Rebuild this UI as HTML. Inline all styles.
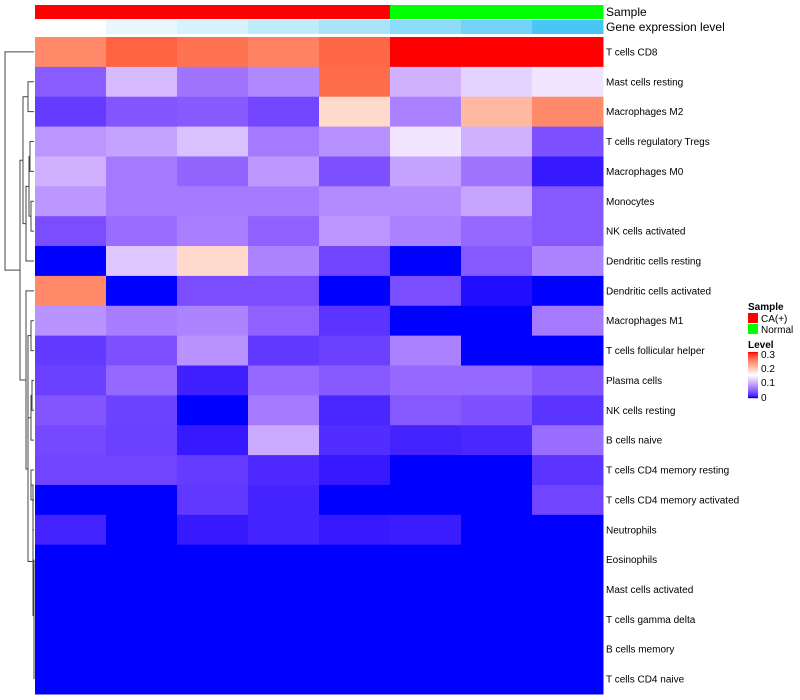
<!DOCTYPE html>
<html><head><meta charset="utf-8"><style>
body{margin:0;background:#fff;}
svg{display:block;font-family:"Liberation Sans",sans-serif;}
</style></head><body>
<svg id="chart" width="800" height="700">
<g id="ann"></g><g id="cells"></g><g id="dendro" stroke="#444" stroke-width="1" fill="none"></g><g id="labels" font-size="10" fill="#000"></g>
<text x="606" y="16" font-size="12">Sample</text>
<text x="606" y="31" font-size="12">Gene expression level</text>
<g>
<text x="748" y="310" font-size="10" font-weight="bold">Sample</text>
<rect x="748" y="313" width="10" height="10" fill="#ff0000"/>
<text x="761" y="322" font-size="10">CA(+)</text>
<rect x="748" y="324" width="10" height="10" fill="#00ff00"/>
<text x="761" y="333" font-size="10">Normal</text>
<text x="748" y="348" font-size="10" font-weight="bold">Level</text>
<g id="cbar"></g>
<text x="761" y="358" font-size="10">0.3</text>
<text x="761" y="372" font-size="10">0.2</text>
<text x="761" y="386" font-size="10">0.1</text>
<text x="761" y="401" font-size="10">0</text>
</g>
</svg>
<script>
const rowNames=["T cells CD8","Mast cells resting","Macrophages M2","T cells regulatory  Tregs","Macrophages M0","Monocytes","NK cells activated","Dendritic cells resting","Dendritic cells activated","Macrophages M1","T cells follicular helper","Plasma cells","NK cells resting","B cells naive","T cells CD4 memory resting","T cells CD4 memory activated","Neutrophils","Eosinophils","Mast cells activated","T cells gamma delta","B cells memory","T cells CD4 naive"];
const sampleGroups=["CA","CA","CA","CA","CA","Normal","Normal","Normal"];
const geneLevel=[0,0.12,0.22,0.35,0.47,0.62,0.78,1];
const values=[
[0.24,0.265,0.255,0.245,0.262,0.3,0.3,0.3],
[0.044,0.106,0.06,0.073,0.26,0.10,0.121,0.133],
[0.024,0.04,0.043,0.031,0.18,0.068,0.205,0.24],
[0.082,0.09,0.11,0.064,0.078,0.133,0.10,0.037],
[0.10,0.064,0.05,0.084,0.037,0.09,0.06,0.007],
[0.083,0.064,0.064,0.064,0.075,0.075,0.092,0.042],
[0.035,0.055,0.067,0.048,0.082,0.068,0.052,0.042],
[0,0.115,0.18,0.07,0.03,0,0.042,0.07],
[0.24,0,0.035,0.035,0,0.035,0.003,0],
[0.08,0.066,0.07,0.048,0.02,0,0,0.064],
[0.023,0.036,0.08,0.022,0.027,0.068,0,0],
[0.027,0.052,0.01,0.052,0.043,0.052,0.052,0.04],
[0.04,0.028,0,0.064,0.013,0.042,0.037,0.02],
[0.032,0.027,0.007,0.095,0.016,0.011,0.013,0.055],
[0.03,0.03,0.024,0.014,0.007,0,0,0.02],
[0,0,0.022,0.011,0,0,0,0.03],
[0.011,0,0.007,0.011,0.007,0.008,0,0],
[0,0,0,0,0,0,0,0],
[0,0,0,0,0,0,0,0],
[0,0,0,0,0,0,0,0],
[0,0,0,0,0,0,0,0],
[0,0,0,0,0,0,0,0]];
const X0=35,X1=603,Y0=37,Y1=694;
const nC=8,nR=rowNames.length;
const cw=(X1-X0)/nC,rh=(Y1-Y0)/nR;
const xPos=c=>X0+c*cw, yPos=r=>Y0+r*rh;
function lin(c){c/=255;return c<=0.04045?c/12.92:Math.pow((c+0.055)/1.055,2.4);}
function unlin(c){c=c<=0.0031308?12.92*c:1.055*Math.pow(c,1/2.4)-0.055;return Math.round(Math.max(0,Math.min(1,c))*255);}
const Wp=[0.95047,1,1.08883];
function f(t){return t>0.008856?Math.cbrt(t):7.787*t+16/116;}
function fi(t){return t>0.206893?t*t*t:(t-16/116)/7.787;}
function toLab(rgb){const [r,g,b]=rgb.map(lin);
 const X=(0.4124*r+0.3576*g+0.1805*b)/Wp[0],Y=(0.2126*r+0.7152*g+0.0722*b)/Wp[1],Z=(0.0193*r+0.1192*g+0.9505*b)/Wp[2];
 return [116*f(Y)-16,500*(f(X)-f(Y)),200*(f(Y)-f(Z))];}
function fromLab(L){const fy=(L[0]+16)/116,fx=fy+L[1]/500,fz=fy-L[2]/200;
 const X=fi(fx)*Wp[0],Y=fi(fy)*Wp[1],Z=fi(fz)*Wp[2];
 const r=3.2406*X-1.5372*Y-0.4986*Z,g=-0.9689*X+1.8758*Y+0.0415*Z,b=0.0557*X-0.2040*Y+1.0570*Z;
 return `rgb(${unlin(r)},${unlin(g)},${unlin(b)})`;}
const LB=toLab([0,0,255]),LW=toLab([255,255,255]),LR=toLab([255,0,0]);
function mix(a,b,k){return a.map((x,i)=>x+(b[i]-x)*k);}
function col(v){const t=Math.max(0,Math.min(0.3,v))/0.3;
 return t<0.5?fromLab(mix(LB,LW,t/0.5)):fromLab(mix(LW,LR,(t-0.5)/0.5));}
function blue(l){const a=[255,255,255],b=[74,198,245];return `rgb(${a.map((x,i)=>Math.round(x+(b[i]-x)*l)).join(',')})`;}
const NS="http://www.w3.org/2000/svg";
const ann=document.getElementById('ann'),cells=document.getElementById('cells'),labels=document.getElementById('labels');
const cbar=document.getElementById('cbar');
for(let i=0;i<46;i++){const r=document.createElementNS(NS,'rect');
 r.setAttribute('x',748);r.setAttribute('y',352+i);r.setAttribute('width',10);r.setAttribute('height',1.2);
 r.setAttribute('fill',col(0.3*(1-i/45)));
 
 
 cbar.appendChild(r);}
for(let c=0;c<nC;c++){
 let r=document.createElementNS(NS,'rect');
 r.setAttribute('x',xPos(c));r.setAttribute('y',5);r.setAttribute('width',cw+0.5);r.setAttribute('height',14);
 r.setAttribute('fill',sampleGroups[c]==="CA"?"#ff0000":"#00ff00");
 
 
 ann.appendChild(r);
 let g=document.createElementNS(NS,'rect');
 g.setAttribute('x',xPos(c));g.setAttribute('y',20);g.setAttribute('width',cw+0.5);g.setAttribute('height',14);
 g.setAttribute('fill',blue(geneLevel[c]));
 
 
 ann.appendChild(g);
}
for(let r=0;r<nR;r++){
 for(let c=0;c<nC;c++){
  let e=document.createElementNS(NS,'rect');
  e.setAttribute('x',xPos(c));e.setAttribute('y',yPos(r));e.setAttribute('width',cw+0.5);e.setAttribute('height',rh+0.5);
  e.setAttribute('fill',col(values[r][c]));
  
  
  cells.appendChild(e);
 }
 let t=document.createElementNS(NS,'text');
 t.setAttribute('x',606);t.setAttribute('y',yPos(r)+rh/2+3.5);t.textContent=rowNames[r];
 
 
 labels.appendChild(t);
}
const merges=[[1,2,28],[3,4,30],[5,6,31],["m1","m2",29],["m3",7,26],["m0","m4",23],
[9,10,31],[11,12,32],["m7",13,31],["m6","m8",28],[14,15,31],["m10",16,33],[17,18,34],[19,20,34],["m13",21,34],["m12","m14",34],["m11","m15",33],["m9","m16",28],[8,"m17",26],["m5","m18",20],[0,"m19",5]];
const dendro=document.getElementById('dendro');
const node={};
function get(k){if(typeof k==="number")return {y:yPos(k)+rh/2,x:X0-1};return node[k];}
merges.forEach((m,i)=>{const a=get(m[0]),b=get(m[1]),h=m[2];
 const p=document.createElementNS(NS,'path');
 p.setAttribute('d',`M${a.x},${a.y}H${h}V${b.y}H${b.x}`);
 
 
 dendro.appendChild(p);
 node['m'+i]={x:h,y:(a.y+b.y)/2};});
</script>
</body></html>
